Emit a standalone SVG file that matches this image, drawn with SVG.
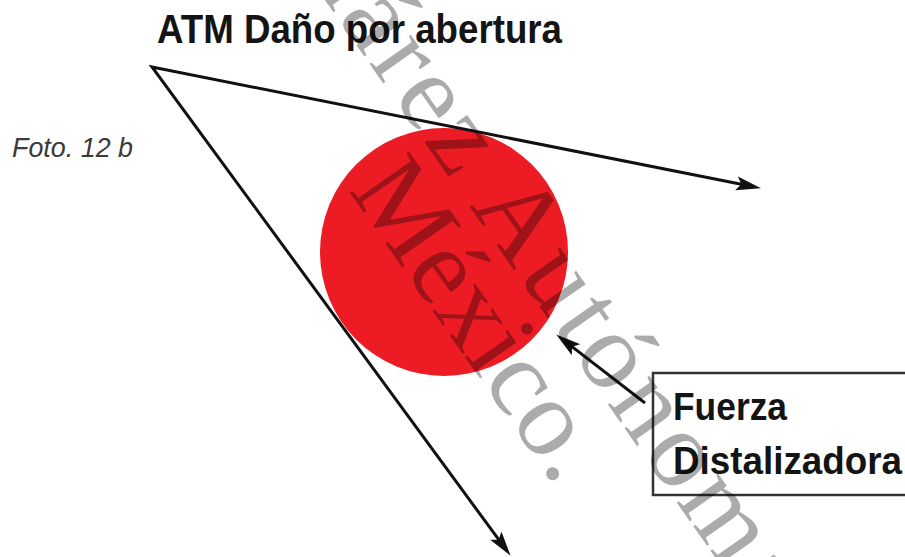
<svg xmlns="http://www.w3.org/2000/svg" width="905" height="557" viewBox="0 0 905 557">
  <style>
    .label { font-family: "Liberation Sans", Arial, sans-serif; font-weight: bold; fill: #141414; }
    .conn { fill: none; stroke: #111; stroke-width: 3; stroke-linejoin: miter; }
    .wm { font-family: "Liberation Serif", "Times New Roman", serif; font-size: 110px; fill: #000; fill-opacity: 0.33; }
  </style>
  <defs>
    <marker id="arrow" markerUnits="userSpaceOnUse" markerWidth="30" markerHeight="20" refX="10" refY="10" orient="auto-start-reverse">
      <path d="M0,3 L25,10 L0,17 L5,10 Z" fill="#111"/>
    </marker>
  </defs>
  <rect width="905" height="557" fill="#fff"/>

  <g id="title">
    <text class="label" x="157" y="43" font-size="41" textLength="405" lengthAdjust="spacingAndGlyphs">ATM Daño por abertura</text>
  </g>

  <g id="foto">
    <text x="12" y="157" font-family="'Liberation Sans', Arial, sans-serif" font-style="italic" font-size="28" fill="#3a3a3a" textLength="121" lengthAdjust="spacingAndGlyphs">Foto. 12 b</text>
  </g>

  <g id="circle">
    <circle cx="444" cy="252" r="124" fill="#ed1c24"/>
  </g>

  <g id="fuerza">
    <rect x="653" y="373" width="260" height="122" fill="none" stroke="#333" stroke-width="2.5"/>
    <text class="label" x="673" y="420" font-size="39" textLength="114" lengthAdjust="spacingAndGlyphs">Fuerza</text>
    <text class="label" x="673" y="474" font-size="39" textLength="229" lengthAdjust="spacingAndGlyphs">Distalizadora</text>
  </g>

  <g id="connectors">
    <path class="conn" d="M746.3,185.3 L152,67 L501.7,543.7" marker-start="url(#arrow)" marker-end="url(#arrow)"/>
    <path class="conn" d="M645,403 L568.1,343.6" marker-end="url(#arrow)"/>
  </g>

  <g id="watermark" transform="translate(348,190) rotate(55)">
    <text class="wm" x="0" y="0">México.</text>
    <text class="wm" x="-255" y="-90" font-size="112" letter-spacing="5">Juárez Autónoma</text>
  </g>
</svg>
